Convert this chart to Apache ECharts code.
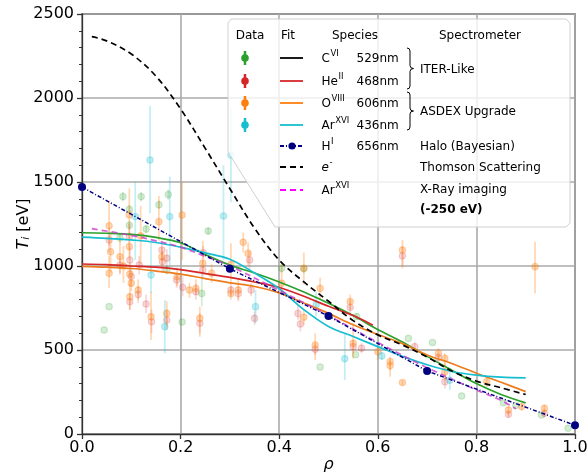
<!DOCTYPE html>
<html><head><meta charset="utf-8">
<script src="https://cdn.jsdelivr.net/npm/echarts@6/dist/echarts.min.js"></script>
<style>html,body{margin:0;padding:0;background:#fff}#c{width:588px;height:475px}</style>
</head><body><div id="c"></div><script>
// ---------- data ----------
const xTickLabels = ['0.0','0.2','0.4','0.6','0.8','1.0'];
const yTickLabels = ['0','500','1000','1500','2000','2500'];

// fit curves (rho, T)
const cviFitRho = [0,0.05,0.1,0.15,0.2,0.25,0.3,0.35,0.4,0.45,0.5,0.55,0.6,0.65,0.7,0.75,0.8,0.85,0.9];
const cviFitT   = [1198,1195,1188,1170,1138,1068,1005,958,905,845,778,705,622,548,462,380,300,235,185];
const heiiFitRho = [0,0.05,0.1,0.15,0.2,0.25,0.3,0.35,0.4,0.45,0.5,0.55,0.59];
const heiiFitT   = [1012,1008,1000,993,978,955,932,905,872,820,760,705,648];
const oviiiFitRho = [0,0.05,0.1,0.15,0.2,0.25,0.3,0.35,0.4,0.45,0.5,0.55,0.6,0.65,0.7,0.75,0.8,0.85,0.9];
const oviiiFitT   = [998,993,985,970,952,925,900,878,840,780,718,650,592,538,470,420,362,308,252];
const arxviFitRho = [0,0.05,0.1,0.15,0.2,0.25,0.3,0.35,0.4,0.45,0.5,0.55,0.6,0.65,0.7,0.75,0.8,0.85,0.9];
const arxviFitT   = [1172,1165,1155,1140,1112,1078,1040,958,865,740,640,580,520,462,412,372,350,338,334];
const thomsonRho = [0.02,0.05,0.1,0.15,0.2,0.25,0.3,0.35,0.4,0.45,0.5,0.55,0.6,0.65,0.7,0.75,0.8,0.85,0.9];
const thomsonT   = [2365,2340,2262,2130,1935,1700,1460,1225,1035,905,790,675,590,530,458,375,315,275,235];
const xrayRho = [0.02,0.1,0.15,0.2,0.25,0.3,0.4,0.5,0.6,0.7,0.8,0.85,0.88];
const xrayT   = [1222,1182,1150,1112,1058,1000,855,705,545,395,262,200,150];
const haloRho = [0,0.3,0.5,0.7,1.0];
const haloT   = [1470,983,702,375,52];

// measured points: [rho, T, low, high]
const cviPts = [
 [0.045,619,619,619],[0.055,758,758,758],[0.077,1168,1140,1195],[0.083,1413,1385,1440],
 [0.096,1337,1310,1365],[0.096,1242,1215,1270],[0.12,1413,1385,1440],[0.13,1220,1195,1245],
 [0.156,1365,1340,1390],[0.172,976,950,1000],[0.175,1425,1395,1455],[0.203,667,667,667],
 [0.243,837,760,960],[0.256,1208,1185,1230],[0.405,986,960,1010],[0.45,984,960,1008],
 [0.483,399,399,399],[0.555,472,472,472],[0.557,699,680,720],[0.662,569,569,569],
 [0.711,545,545,545],[0.77,226,226,226],[0.855,185,185,185],[0.88,169,169,169],
 [0.932,113,113,113],[0.986,34,34,34]
];
const heiiPts = [
 [0.055,1155,1080,1230],[0.077,1006,950,1060],[0.096,1174,1100,1250],[0.097,1036,950,1110],
 [0.097,787,738,840],[0.1,937,880,1000],[0.114,831,780,880],[0.116,1006,950,1060],
 [0.13,774,720,830],[0.141,668,600,740],[0.162,1095,1030,1150],[0.163,1026,960,1090],
 [0.172,1046,990,1100],[0.172,679,620,740],[0.192,917,870,960],[0.204,873,820,940],
 [0.231,847,800,890],[0.239,659,600,720],[0.245,976,920,1030],[0.246,1079,1040,1120],
 [0.302,857,820,900],[0.317,837,790,880],[0.34,1036,980,1090],[0.343,857,820,900],
 [0.35,689,650,730],[0.438,718,680,760],[0.443,655,610,700],[0.473,504,470,540],
 [0.544,754,700,800],[0.55,520,480,560],[0.567,510,480,540],[0.65,1060,1000,1120],
 [0.675,520,500,545],[0.723,456,420,480],[0.736,311,270,350],[0.865,117,95,140],
 [0.938,123,100,150]
];
const oviiiPts = [
 [0.055,1240,1120,1390],[0.058,1085,960,1200],[0.055,957,870,1060],[0.077,1055,960,1150],
 [0.084,1000,900,1120],[0.096,1304,1180,1462],[0.096,1115,1040,1200],[0.097,952,880,1020],
 [0.097,817,740,890],[0.1,897,850,950],[0.114,857,800,920],[0.119,1180,1010,1357],
 [0.14,698,560,847],[0.156,1264,1150,1417],[0.162,1055,990,1110],[0.172,718,640,790],
 [0.193,936,880,990],[0.203,1304,1036,1502],[0.218,857,810,900],[0.231,867,830,920],
 [0.239,689,579,758],[0.245,1016,960,1150],[0.263,957,900,1010],[0.302,1010,897,1135],
 [0.302,837,800,880],[0.317,857,800,920],[0.327,1141,1080,1200],[0.337,1075,1000,1140],
 [0.405,897,850,1010],[0.45,986,890,1080],[0.45,695,650,740],[0.483,867,800,930],
 [0.473,530,440,599],[0.544,788,740,830],[0.55,540,450,660],[0.6,490,440,520],
 [0.625,431,380,460],[0.625,407,341,440],[0.65,1095,986,1155],[0.65,306,290,320],
 [0.723,480,450,510],[0.736,450,400,480],[0.736,371,320,420],[0.821,311,280,340],
 [0.865,143,110,170],[0.892,163,140,185],[0.919,996,837,1145],[0.938,153,125,175]
];
const arxviPts = [
 [0.108,1294,1036,1502],[0.138,1631,1314,1952],[0.14,946,839,1137],[0.168,639,480,798],
 [0.178,1294,996,1532],[0.287,1298,1036,1600],[0.302,1660,1380,1940],[0.352,758,659,857],
 [0.475,770,700,847],[0.533,448,321,600],[0.608,465,440,490],[0.746,320,262,381]
];

// ---------- chart ----------
const FONT = 'DejaVu Sans';
const C_GREEN = '#2ca02c', C_RED = '#d62728', C_ORANGE = '#ff7f0e', C_CYAN = '#17becf', C_NAVY = '#000080';
const zip = (a, b) => a.map((v, i) => [v, b[i]]);

function errSeries(name, data, color, r) {
  return {
    type: 'custom', name, data, z: 1, clip: true,
    encode: { x: 0, y: 1 },
    renderItem: (params, api) => {
      const x = api.value(0), y = api.value(1), lo = api.value(2), hi = api.value(3);
      const p = api.coord([x, y]), a = api.coord([x, lo]), b = api.coord([x, hi]);
      const ch = [];
      if (Math.abs(a[1] - b[1]) > 0.5) ch.push({ type: 'line', shape: { x1: a[0], y1: a[1], x2: b[0], y2: b[1] }, style: { stroke: color, lineWidth: 1.8 } });
      ch.push({ type: 'circle', shape: { cx: p[0], cy: p[1], r: r }, style: { fill: color, stroke: color, lineWidth: 1.2 } });
      return { type: 'group', children: ch };
    }
  };
}
function fitSeries(name, rho, t, color, extra) {
  return Object.assign({
    type: 'line', name, data: zip(rho, t), showSymbol: false, smooth: 0.35, z: 3,
    lineStyle: { color, width: 1.7 }, itemStyle: { color }, silent: true, animation: false
  }, extra || {});
}

// ---------- legend (drawn as graphics) ----------
const G = [];
const measure = (() => { const c = document.createElement('canvas').getContext('2d'); return (s, f) => { c.font = f; return c.measureText(s).width; }; })();
function txt(x, y, s, o) {
  const st = Object.assign({ text: s, fontFamily: FONT, fontSize: 12, fill: '#000', align: 'left', verticalAlign: 'middle', textAlign: 'left', textVerticalAlign: 'middle' }, o || {});
  G.push({ type: 'text', x, y, z: 101, silent: true, style: st });
}
function seg(x1, y1, x2, y2, o) {
  G.push({ type: 'line', z: 101, silent: true, shape: { x1, y1, x2, y2 }, style: Object.assign({ stroke: '#000', lineWidth: 1 }, o || {}) });
}
function qc(x1, y1, cx, cy, x2, y2) {
  G.push({ type: 'bezierCurve', z: 101, silent: true, shape: { x1, y1, x2, y2, cpx1: cx, cpy1: cy }, style: { stroke: '#000', lineWidth: 1, fill: null } });
}
G.push({ type: 'polygon', z: 100, silent: true,
  shape: { points: [[228, 23], [231, 19], [566, 19], [570, 23], [570, 223], [566, 227], [275, 227], [228, 152]] },
  style: { fill: 'rgba(255,255,255,0.8)', stroke: '#d0d0d0', lineWidth: 1 } });
txt(250, 36, 'Data', { align: 'center', textAlign: 'center' });
txt(288, 36, 'Fit', { align: 'center', textAlign: 'center' });
txt(355, 36, 'Species', { align: 'center', textAlign: 'center' });
txt(480, 36, 'Spectrometer', { align: 'center', textAlign: 'center' });

const legRows = [
  { y: 58, base: 'C', sup: 'VI', wl: '529nm', data: C_GREEN, fit: '#000', dash: null },
  { y: 81, base: 'He', sup: 'II', wl: '468nm', data: C_RED, fit: C_RED, dash: null },
  { y: 103, base: 'O', sup: 'VIII', wl: '606nm', data: C_ORANGE, fit: C_ORANGE, dash: null },
  { y: 125, base: 'Ar', sup: 'XVI', wl: '436nm', data: C_CYAN, fit: C_CYAN, dash: null },
  { y: 146, base: 'H', sup: 'I', wl: '656nm', data: null, fit: C_NAVY, dash: [4, 2, 1, 2], dot: true },
  { y: 167, base: 'e', sup: '-', wl: '', data: null, fit: '#000', dash: [6, 4], italic: true },
  { y: 190, base: 'Ar', sup: 'XVI', wl: '', data: null, fit: '#ff00ff', dash: [6, 4] }
];
legRows.forEach(r => {
  if (r.data) {
    seg(245, r.y - 7, 245, r.y + 7, { stroke: r.data, lineWidth: 2.5 });
    G.push({ type: 'circle', z: 101, silent: true, shape: { cx: 245, cy: r.y, r: 3.8 }, style: { fill: r.data } });
  }
  seg(280, r.y, 303, r.y, { stroke: r.fit, lineWidth: r.dash && !r.dot ? 2.2 : 1.8, lineDash: r.dash || null });
  if (r.dot) G.push({ type: 'circle', z: 102, silent: true, shape: { cx: 292, cy: r.y, r: 3.6 }, style: { fill: C_NAVY } });
  const fstyle = r.italic ? 'italic' : 'normal';
  txt(321.5, r.y + 1, r.base, { fontStyle: fstyle });
  const w = measure(r.base, fstyle + ' 12px "DejaVu Sans"');
  txt(321.5 + w + 0.5, r.y - 4.5, r.sup, { fontSize: 8.5 });
  if (r.wl) txt(356.5, r.y + 1, r.wl);
});
function brace(x, y0, y1) {
  const m = (y0 + y1) / 2, v = x + 3;
  qc(x, y0, v, y0, v, y0 + 3);
  seg(v, y0 + 3, v, m - 3);
  qc(v, m - 3, v, m, v + 3.5, m);
  qc(v + 3.5, m, v, m, v, m + 3);
  seg(v, m + 3, v, y1 - 3);
  qc(v, y1 - 3, v, y1, x, y1);
}
brace(407, 48, 89);
brace(407, 92, 130);
txt(420, 70, 'ITER-Like');
txt(420, 112, 'ASDEX Upgrade');
txt(420, 147, 'Halo (Bayesian)');
txt(420, 168, 'Thomson Scattering');
txt(420, 190, 'X-Ray imaging');
txt(420, 210, '(-250 eV)', { fontWeight: 'bold' });

const chart = echarts.init(document.getElementById('c'), null, { renderer: 'canvas' });
chart.setOption({
  animation: false,
  backgroundColor: '#fff',
  grid: { left: 82, right: 13, top: 14, bottom: 41, outerBoundsMode: 'none', containLabel: false, show: true, borderColor: '#333', borderWidth: 1.3, backgroundColor: 'transparent' },
  xAxis: {
    type: 'value', min: 0, max: 1, interval: 0.2,
    axisLine: { show: true, onZero: false, lineStyle: { color: '#333', width: 1.3 } },
    axisTick: { show: true, inside: false, length: 5, lineStyle: { color: '#333', width: 1.3 } },
    axisLabel: { fontSize: 16, fontFamily: FONT, color: '#000', margin: 6, formatter: (v) => xTickLabels[Math.round(v / 0.2)] },
    splitLine: { show: true, lineStyle: { color: '#aaa', width: 1.6 } },
    name: 'ρ', nameLocation: 'middle', nameGap: 23, nameMoveOverlap: false,
    nameTextStyle: { fontSize: 16, fontStyle: 'italic', fontFamily: FONT, color: '#000' }
  },
  yAxis: {
    type: 'value', min: 0, max: 2500, interval: 500,
    axisLine: { show: true, onZero: false, lineStyle: { color: '#333', width: 1.3 } },
    axisTick: { show: true, inside: false, length: 5, lineStyle: { color: '#333', width: 1.3 } },
    minorTick: { show: true, splitNumber: 5, length: 3, lineStyle: { color: '#333', width: 1 } },
    axisLabel: { fontSize: 16, fontFamily: FONT, color: '#000', margin: 8, formatter: (v) => yTickLabels[Math.round(v / 500)] },
    splitLine: { show: true, lineStyle: { color: '#aaa', width: 1.6 } },
    name: '{t|T}{s|i} {n|[eV]}', nameLocation: 'middle', nameGap: 50, nameRotate: 90, nameMoveOverlap: false,
    nameTextStyle: { fontSize: 16, fontFamily: FONT, color: '#000',
      rich: { t: { fontSize: 16, fontStyle: 'italic', fontFamily: FONT }, s: { fontSize: 11, fontStyle: 'italic', fontFamily: FONT, verticalAlign: 'bottom', padding: [6, 0, 0, 0] }, n: { fontSize: 16, fontFamily: FONT } } }
  },
  series: [
    errSeries('C VI data', cviPts, 'rgba(44,160,44,0.2)', 3.2),
    errSeries('He II data', heiiPts, 'rgba(214,39,40,0.18)', 3.2),
    errSeries('O VIII data', oviiiPts, 'rgba(255,127,14,0.3)', 3.2),
    errSeries('Ar XVI data', arxviPts, 'rgba(23,190,207,0.26)', 3.2),
    fitSeries('C VI fit', cviFitRho, cviFitT, C_GREEN),
    fitSeries('He II fit', heiiFitRho, heiiFitT, C_RED),
    fitSeries('O VIII fit', oviiiFitRho, oviiiFitT, '#ec7d1e'),
    fitSeries('Ar XVI fit', arxviFitRho, arxviFitT, C_CYAN),
    fitSeries('X-ray', xrayRho, xrayT, 'rgba(200,60,200,0.8)', { lineStyle: { color: 'rgba(200,60,200,0.8)', width: 1.7, type: [6, 4] }, z: 4 }),
    fitSeries('Thomson', thomsonRho, thomsonT, '#000', { lineStyle: { color: '#000', width: 1.7, type: [6, 4] }, z: 4 }),
    { type: 'line', name: 'Halo', data: zip(haloRho, haloT), z: 5, symbol: 'circle', symbolSize: 8, showSymbol: true, clip: false,
      lineStyle: { color: C_NAVY, width: 1.5, type: [4, 2, 1, 2] }, itemStyle: { color: C_NAVY }, silent: true }
  ],
  graphic: { elements: G }
});
</script></body></html>
